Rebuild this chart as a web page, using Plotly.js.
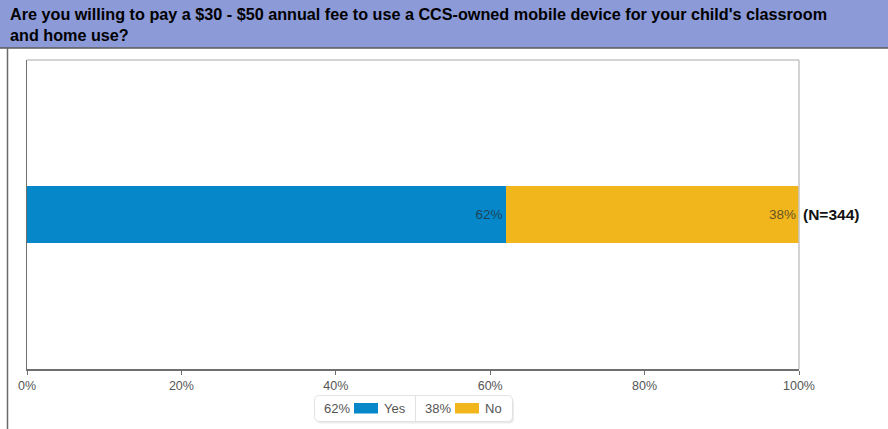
<!DOCTYPE html>
<html>
<head>
<meta charset="utf-8">
<script src="https://cdn.plot.ly/plotly-3.0.1.min.js"></script>
<style>html,body{margin:0;padding:0;background:#fff;}#chart{width:888px;height:429px;}</style>
</head>
<body>
<div id="chart"></div>
<script>
const titleText = "Are you willing to pay a $30 - $50 annual fee to use a CCS-owned mobile device for your child's classroom<br>and home use?";
const categories = ["Q"];
const seriesNames = ["Yes", "No"];
const seriesValues = [[0.62], [0.38]];
const seriesColors = ["#0587C9", "#F2B61D"];
const nLabel = "(N=344)";
const tickVals = [0, 0.2, 0.4, 0.6, 0.8, 1.0];

const W = 888, Hh = 429;
const L = 27, R = 799, T = 60, B = 369;
const pw = R - L, ph = B - T;
const px = p => (p - L) / pw;
const py = p => (B - p) / ph;
const FONT = 'Liberation Sans, Arial, sans-serif';

const traces = seriesNames.map((name, i) => ({
  type: 'bar',
  orientation: 'h',
  name: name,
  y: categories,
  x: seriesValues[i],
  width: 0.185,
  marker: {color: seriesColors[i], line: {width: 0}},
  text: seriesValues[i].map(v => Math.round(v * 100) + '%'),
  textposition: 'inside',
  insidetextanchor: 'end',
  textfont: {family: FONT, size: 13.5, color: 'rgba(40,40,40,0.72)'},
  hoverinfo: 'skip',
  showlegend: false
}));

const shapes = [
  {type: 'rect', xref: 'paper', yref: 'paper', x0: px(0), x1: px(888), y0: py(48), y1: py(-2), fillcolor: '#8C9AD8', line: {width: 0}, layer: 'below'},
  {type: 'line', xref: 'paper', yref: 'paper', x0: px(0), x1: px(888), y0: py(48), y1: py(48), line: {color: '#5a5a5a', width: 1.5}},
  {type: 'line', xref: 'paper', yref: 'paper', x0: px(7.5), x1: px(7.5), y0: py(48), y1: py(432), line: {color: '#6a6a6a', width: 1.5}},
  {type: 'line', xref: 'paper', yref: 'paper', x0: 0, x1: 1, y0: 1, y1: 1, line: {color: '#c4c4c4', width: 1.5}},
  {type: 'line', xref: 'paper', yref: 'paper', x0: 1, x1: 1, y0: 0, y1: 1, line: {color: '#c4c4c4', width: 1.5}},
];

const annotations = [
  {xref: 'paper', yref: 'paper', x: px(8), y: py(3), xanchor: 'left', yanchor: 'top', align: 'left',
   text: '<b>' + titleText + '</b>', showarrow: false,
   font: {family: FONT, size: 16.2, color: '#000'}},
  {xref: 'paper', yref: 'y', x: 1, y: categories[0], xanchor: 'left', xshift: 2, yanchor: 'middle',
   text: '<b>' + nLabel + '</b>', showarrow: false,
   font: {family: FONT, size: 15.5, color: '#111'}}
];

const lgX0 = 314.5, lgX1 = 512.5, lgY0 = 395.5, lgY1 = 421.5, lgDiv = 415.5, rr = 5;
function rrPath(x0, y0, x1, y1, r) {
  const a = px(x0), b = px(x1), c = py(y0), d = py(y1);
  const rx = r / pw, ry = r / ph;
  return `M ${a+rx},${c} L ${b-rx},${c} Q ${b},${c} ${b},${c-ry} L ${b},${d+ry} Q ${b},${d} ${b-rx},${d} L ${a+rx},${d} Q ${a},${d} ${a},${d+ry} L ${a},${c-ry} Q ${a},${c} ${a+rx},${c} Z`;
}
shapes.push({type: 'path', xref: 'paper', yref: 'paper', path: rrPath(lgX0 + 1.5, lgY0 + 2, lgX1 + 1.5, lgY1 + 2, rr), fillcolor: 'rgba(0,0,0,0.08)', line: {width: 0}});
shapes.push({type: 'path', xref: 'paper', yref: 'paper', path: rrPath(lgX0, lgY0, lgX1, lgY1, rr), fillcolor: '#fff', line: {color: '#e2e2e2', width: 1}});
shapes.push({type: 'line', xref: 'paper', yref: 'paper', x0: px(lgDiv), x1: px(lgDiv), y0: py(lgY0), y1: py(lgY1), line: {color: '#e2e2e2', width: 1}});
const legendStarts = [323, 424];
const lgMid = 408.5;
seriesNames.forEach((name, i) => {
  const sx = legendStarts[i];
  annotations.push({xref: 'paper', yref: 'paper', x: px(sx - 1), y: py(lgMid), xanchor: 'left', yanchor: 'middle',
    text: Math.round(seriesValues[i][0] * 100) + '%', showarrow: false,
    font: {family: FONT, size: 13, color: '#555'}});
  shapes.push({type: 'rect', xref: 'paper', yref: 'paper', x0: px(sx + 31), x1: px(sx + 55), y0: py(403), y1: py(413.5), fillcolor: seriesColors[i], line: {width: 0}});
  annotations.push({xref: 'paper', yref: 'paper', x: px(sx + 59), y: py(lgMid), xanchor: 'left', yanchor: 'middle',
    text: name, showarrow: false,
    font: {family: FONT, size: 13, color: '#555'}});
});

const layout = {
  width: W, height: Hh,
  margin: {l: L, r: W - R, t: T, b: Hh - B, pad: 0},
  paper_bgcolor: '#fff', plot_bgcolor: '#fff',
  barmode: 'stack',
  showlegend: false,
  xaxis: {range: [0, 1], tickvals: tickVals, tickformat: '.0%', showgrid: false, zeroline: false,
    showline: true, linecolor: '#6f6f6f', linewidth: 1.5, ticks: 'outside', ticklen: 4, tickcolor: '#6f6f6f',
    tickfont: {family: FONT, size: 12.5, color: '#555'}, fixedrange: true},
  yaxis: {range: [-0.5, 0.5], showticklabels: false, showgrid: false, zeroline: false,
    showline: true, linecolor: '#6f6f6f', linewidth: 1.5, ticks: '', fixedrange: true},
  shapes: shapes,
  annotations: annotations
};

Plotly.newPlot('chart', traces, layout, {displayModeBar: false, staticPlot: true});
</script>
</body>
</html>
